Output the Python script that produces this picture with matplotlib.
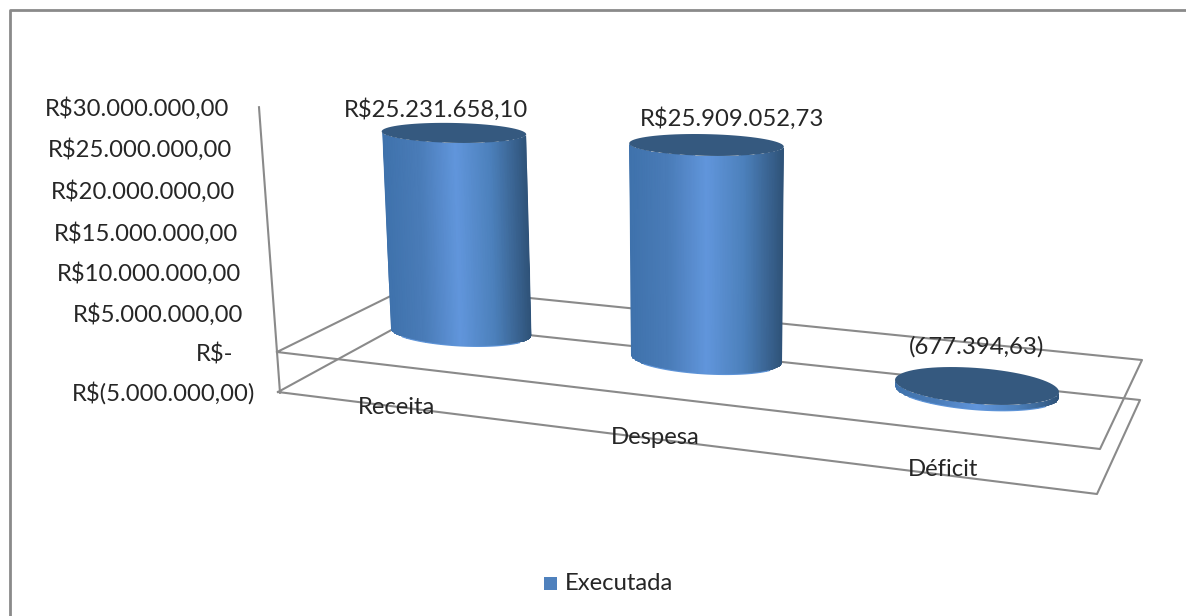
#!/usr/bin/env python3

import matplotlib
matplotlib.use('Agg')
import matplotlib.pyplot as plt
import numpy as np
from matplotlib.colors import LinearSegmentedColormap
from matplotlib.patches import Polygon, Rectangle


categories = ['Receita', 'Despesa', 'Déficit']
values = [25231658.10, 25909052.73, -677394.63]
axis_ticks = [30e6, 25e6, 20e6, 15e6, 10e6, 5e6, 0, -5e6]
tick_labels = ['R$30.000.000,00', 'R$25.000.000,00', 'R$20.000.000,00', 'R$15.000.000,00',
               'R$10.000.000,00', 'R$5.000.000,00', 'R$-', 'R$(5.000.000,00)']
series_name = 'Executada'

# screen layout of the fake 3d view, in pixels
base_x = [461, 706.5, 977]
base_y = [332, 359, 386]
px_per_million = [7.89, 8.26, 8.6]
lean_per_million = [-0.28, 0, 0.3]
half_w = [70.5, 75.5, 82]
half_h = [14, 15, 18]
tilt = [0.05, 0.053, 0.073]
tick_pad = [29.5, 29.5, 30, 30, 30, 31, 44, 25]
tick_dy = [1, 2, 3, 3.5, 3, 3, 3, 0]
cat_label_xy = [(397, 407), (655, 438), (943, 470)]
value_label_xy = [(436, 110), (732, 119), (977, 347)]

line_color = '#8a8a8a'
text_color = '#262626'
font_size = 17.2

shade = LinearSegmentedColormap.from_list(
    'cyl', ['#3f72ac', '#4a7cb8', '#6196dc', '#4c80bb', '#2f5379'])


def money(v):
    s = '{:,.2f}'.format(abs(v)).replace(',', ' ').replace('.', ',').replace(' ', '.')
    return '({})'.format(s) if v < 0 else 'R${}'.format(s)


def axis_x(v):
    return 277 - 3 * v / 5e6


def axis_y(v):
    return 352 - 40.8 * v / 5e6


def arc(cx, cy, hw, hh, tl, t0, t1):
    t = np.linspace(t0, t1, 80)
    return cx + hw * np.cos(t), cy + hw * tl * np.cos(t) + hh * np.sin(t)


def draw_cylinder(ax, i, v):
    m_top = max(v, 0) / 1e6
    m_bot = min(v, 0) / 1e6
    top_y = base_y[i] - m_top * px_per_million[i]
    bot_y = base_y[i] - m_bot * px_per_million[i]
    top_x = base_x[i] + m_top * lean_per_million[i]
    top_w = half_w[i] + 0.07 * m_top
    top_h = half_h[i] - 0.16 * m_top
    top_t = tilt[i] - 0.0012 * m_top

    bx, by = arc(base_x[i], bot_y, half_w[i], half_h[i], tilt[i], np.pi, 0)
    tx, ty = arc(top_x, top_y, top_w, top_h, top_t, 0, np.pi)
    clip = Polygon(np.column_stack([np.r_[bx, tx], np.r_[by, ty]]), transform=ax.transData)

    s = np.linspace(-1, 1, 60)
    xs = np.vstack([top_x + s * top_w, base_x[i] + s * half_w[i]])
    ys = np.vstack([np.full(60, top_y - 30), np.full(60, bot_y + 30)])
    mesh = ax.pcolormesh(xs, ys, np.vstack([s, s]), cmap=shade, shading='gouraud', zorder=3)
    mesh.set_clip_path(clip)

    # thin light rim along the bottom, then the dark cap
    ax.plot(bx[15:65], by[15:65], color='#5e94d8', lw=0.8, zorder=3.5)
    cx, cy = arc(top_x, top_y, top_w, top_h, top_t, 0, 2 * np.pi)
    ax.fill(cx, cy, color='#35597f', lw=0, zorder=4)


fig = plt.figure(figsize=(11.86, 6.16), dpi=100)
ax = fig.add_axes([0, 0, 1, 1])
ax.set_xlim(0, 1186)
ax.set_ylim(616, 0)
ax.axis('off')
plt.rcParams['font.family'] = ['Lato', 'DejaVu Sans']

# chart border, the right side is cut off in the screenshot
ax.plot([10, 10, 1186], [616, 10, 10], color=line_color, lw=2.0, zorder=1)

# floor planes at R$- and at the lowest tick, and the value axis
for plane_x, plane_y in [([277, 1100, 1142, 411, 277], [352, 449, 360, 286, 352]),
                         ([278, 1097, 1140, 406, 278], [392, 494, 400, 322, 392])]:
    ax.plot(plane_x, plane_y, color=line_color, lw=1.5, zorder=2)
ax.plot([axis_x(axis_ticks[0]), axis_x(axis_ticks[-1])], [axis_y(axis_ticks[0]), axis_y(axis_ticks[-1])],
        color=line_color, lw=1.5, zorder=2)

for v, label, pad, dy in zip(axis_ticks, tick_labels, tick_pad, tick_dy):
    ax.text(axis_x(v) - pad, axis_y(v) + dy, label, ha='right', va='center',
            fontsize=font_size, color=text_color, zorder=6)

for i, v in enumerate(values):
    draw_cylinder(ax, i, v)
    ax.text(*value_label_xy[i], money(v), ha='center', va='center',
            fontsize=font_size, color=text_color, zorder=6)
    ax.text(*cat_label_xy[i], categories[i], ha='center', va='center',
            fontsize=font_size, color=text_color, zorder=6)

# legend
ax.add_patch(Rectangle((544, 577), 13, 13, facecolor='#4f81bd', edgecolor='none', zorder=5))
ax.text(565, 584, series_name, ha='left', va='center', fontsize=font_size, color=text_color, zorder=6)

fig.savefig('out.png', dpi=100, facecolor='white')
